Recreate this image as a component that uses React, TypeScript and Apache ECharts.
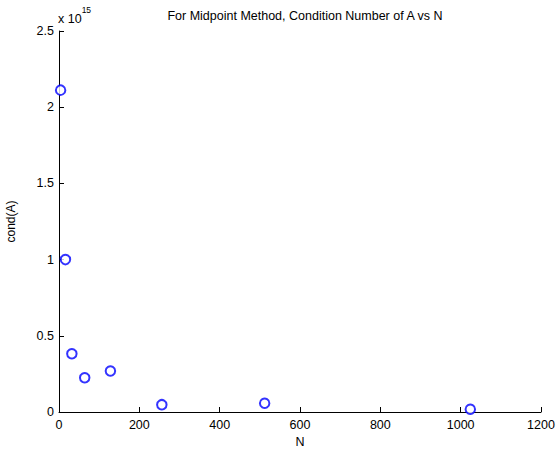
import React, { useEffect, useRef } from "react";
import * as echarts from "echarts";

// Problem sizes and condition numbers of A (midpoint method)
const sizesN = [4, 16, 32, 64, 128, 256, 512, 1024];
const condA = [2.112e15, 1.0e15, 0.382e15, 0.225e15, 0.269e15, 0.048e15, 0.057e15, 0.018e15];
const xTicks = [0, 200, 400, 600, 800, 1000, 1200];
const yTicks = [0, 0.5, 1, 1.5, 2, 2.5];
const yScale = 1e15;

const FONT = "Liberation Sans, Arial, Helvetica, sans-serif";

export default function App() {
  const ref = useRef<HTMLDivElement>(null);

  useEffect(() => {
    if (!ref.current) return;
    const chart = echarts.init(ref.current, null, { renderer: "svg" });
    const axisCommon = {
      axisLine: { show: true, onZero: false, lineStyle: { color: "#000", width: 1 } },
      axisTick: { show: true, inside: true, length: 5, lineStyle: { color: "#000" } },
      splitLine: { show: false },
    };
    chart.setOption({
      animation: false,
      backgroundColor: "#fff",
      textStyle: { fontFamily: FONT },
      title: {
        text: "For Midpoint Method, Condition Number of A vs N",
        left: 300,
        top: 4,
        textAlign: "center",
        textStyle: { fontSize: 12.5, fontWeight: "normal", color: "#000", fontFamily: FONT },
      },
      grid: {
        left: 59,
        right: 16,
        top: 31,
        bottom: 40,
        containLabel: false,
        outerBoundsMode: "none",
      },
      xAxis: {
        type: "value",
        min: xTicks[0],
        max: xTicks[xTicks.length - 1],
        interval: xTicks[1] - xTicks[0],
        name: "N",
        nameLocation: "middle",
        nameGap: 21,
        nameTextStyle: { fontSize: 12.5, color: "#000", fontFamily: FONT },
        ...axisCommon,
        axisLabel: {
          fontSize: 12.5,
          color: "#000",
          margin: 6,
          fontFamily: FONT,
          formatter: (v: number) => String(v),
        },
      },
      yAxis: {
        type: "value",
        min: yTicks[0] * yScale,
        max: yTicks[yTicks.length - 1] * yScale,
        interval: (yTicks[1] - yTicks[0]) * yScale,
        name: "cond(A)",
        nameLocation: "middle",
        nameGap: 42,
        nameRotate: 90,
        nameTextStyle: { fontSize: 12, color: "#000", fontFamily: FONT },
        ...axisCommon,
        axisLabel: {
          fontSize: 12.5,
          color: "#000",
          margin: 5,
          fontFamily: FONT,
          formatter: (v: number) => String(Math.round((v / yScale) * 10) / 10),
        },
      },
      graphic: [
        {
          type: "text",
          left: 58,
          top: 5,
          style: {
            text: "{b|x 10}{s|15}",
            rich: {
              b: { fontSize: 12.5, fontFamily: FONT, fill: "#000", verticalAlign: "bottom", lineHeight: 20 },
              s: { fontSize: 8.5, fontFamily: FONT, fill: "#000", verticalAlign: "top", lineHeight: 20, padding: [0, 0, 10, 0] },
            },
          },
        },
      ],
      series: [
        {
          type: "scatter",
          data: sizesN.map((n, i) => [n, condA[i]]),
          symbol: "emptyCircle",
          symbolSize: 9.5,
          itemStyle: { color: "#0000ff", borderColor: "#0000ff", borderWidth: 1 },
          emphasis: { disabled: true },
        },
      ],
    });
    return () => chart.dispose();
  }, []);

  return (
    <div
      ref={ref}
      style={{ position: "absolute", left: 0, top: 0, width: 557, height: 452 }}
    />
  );
}
